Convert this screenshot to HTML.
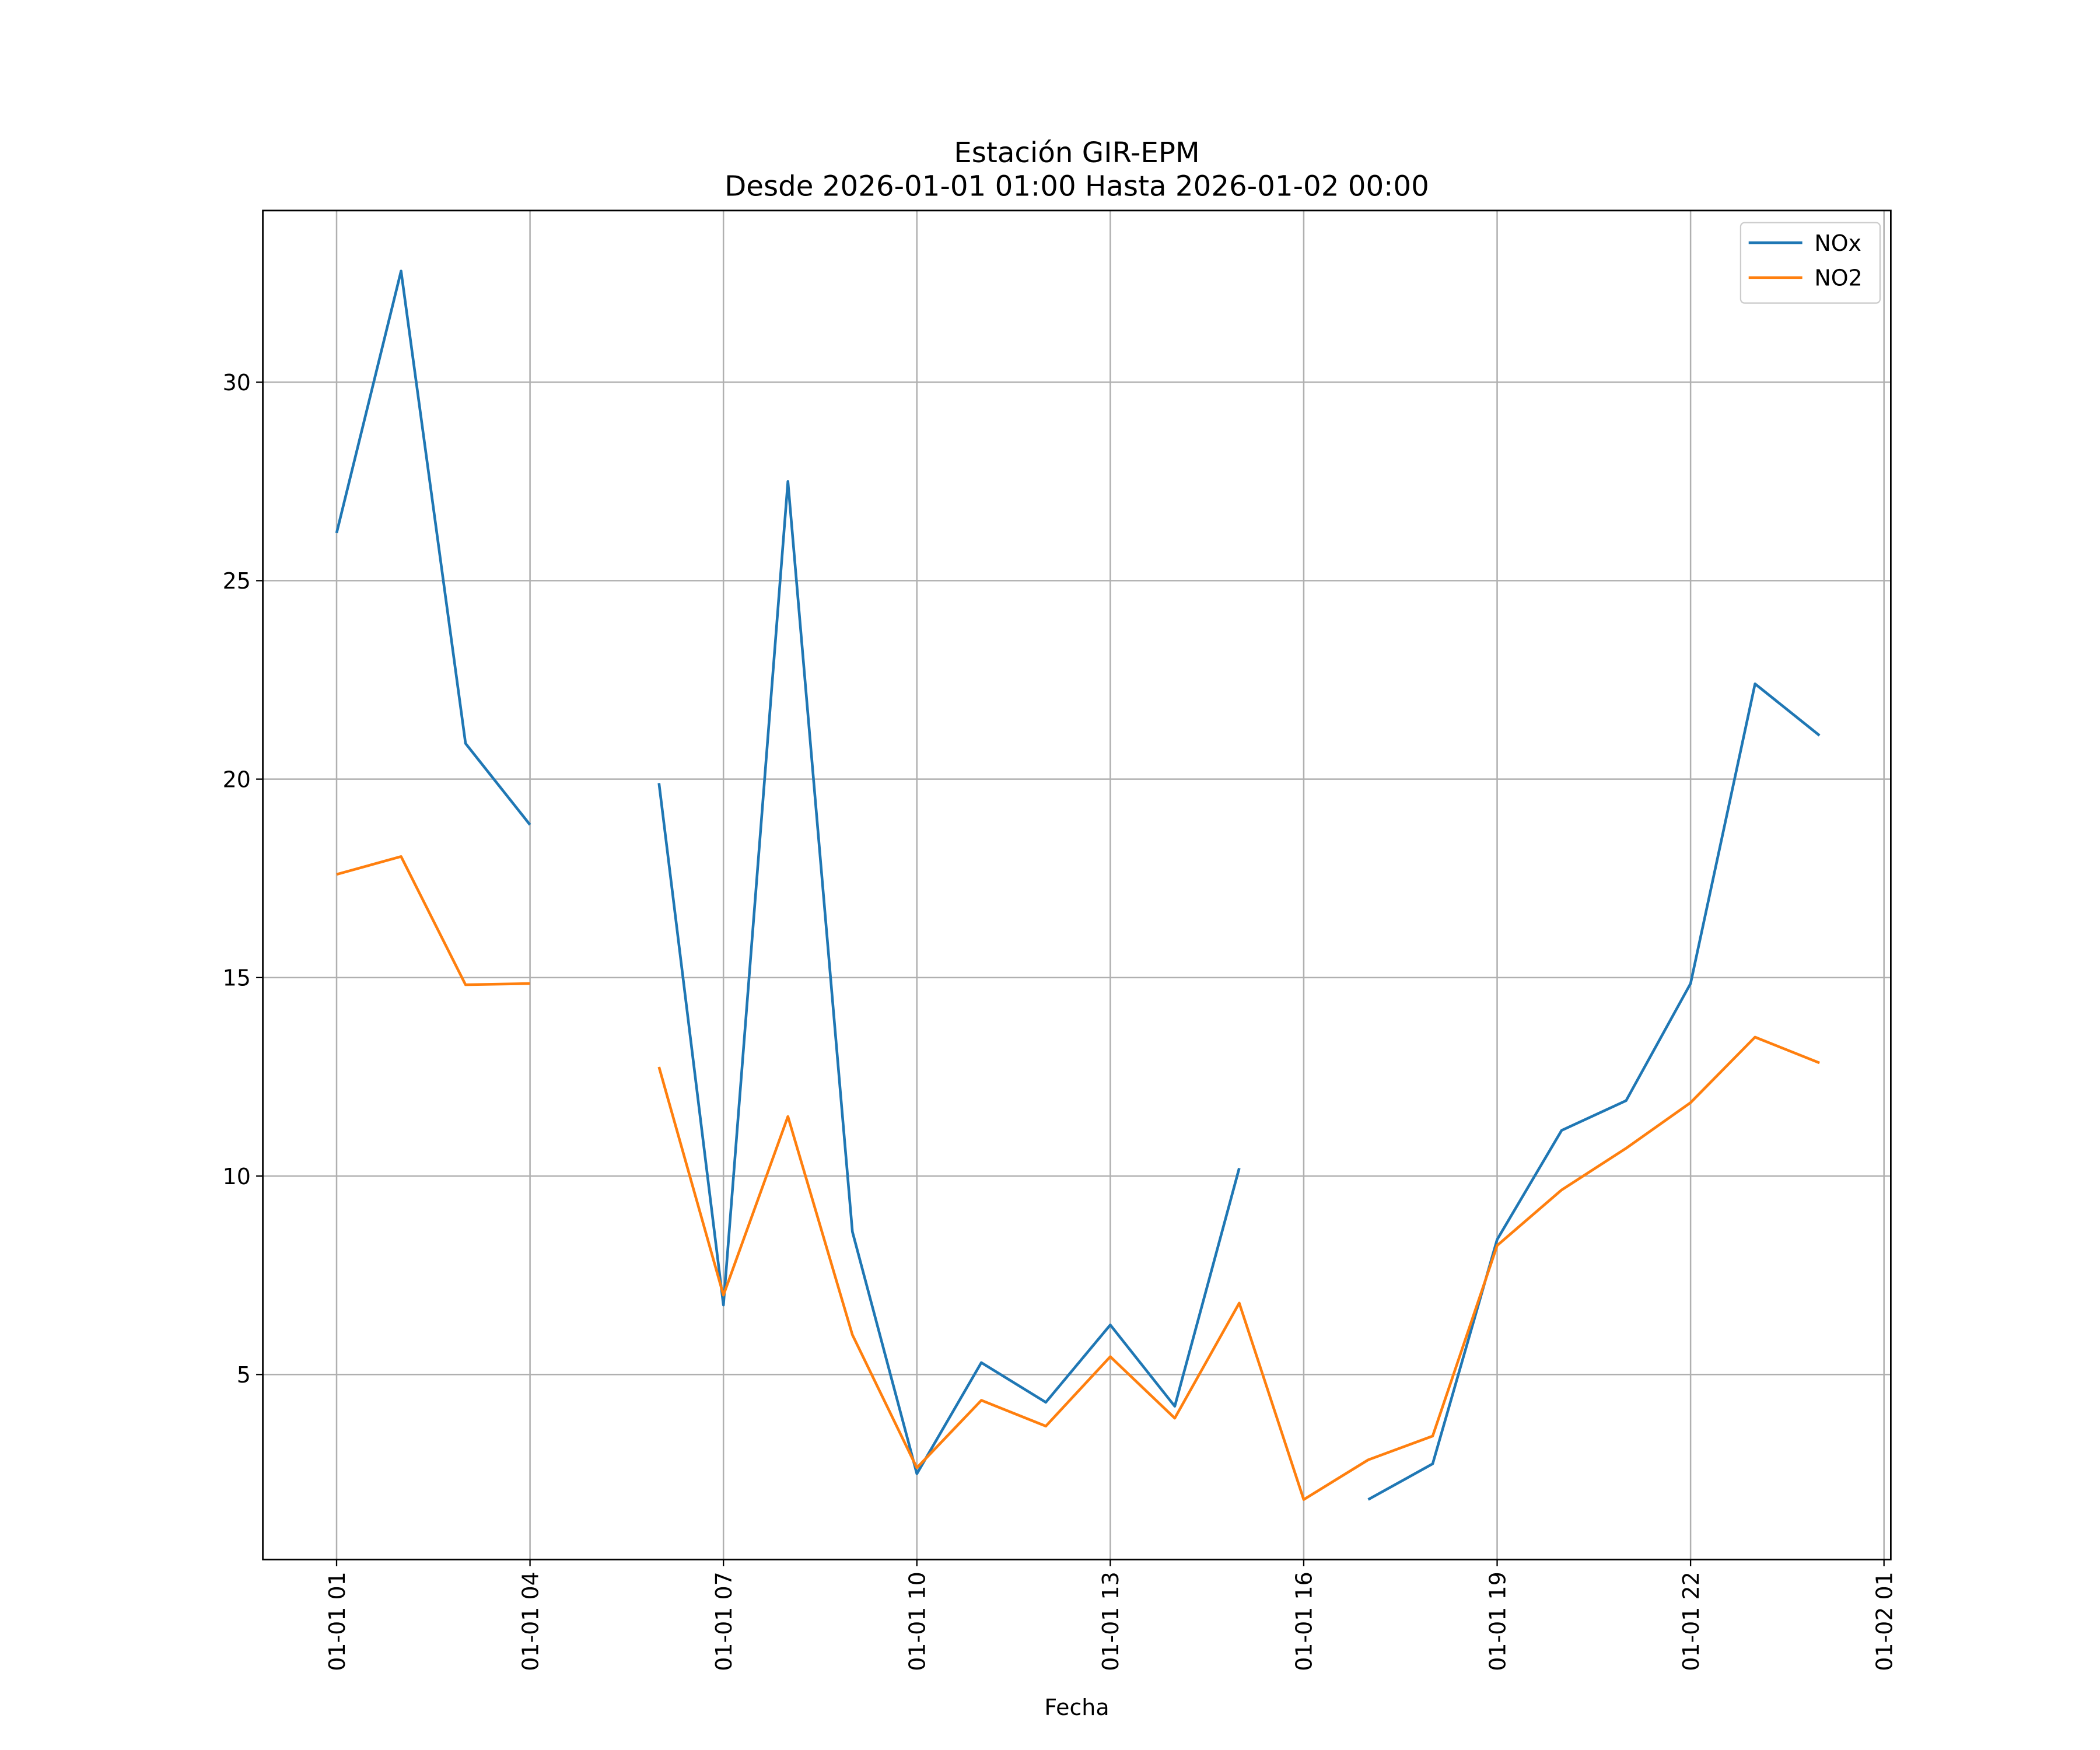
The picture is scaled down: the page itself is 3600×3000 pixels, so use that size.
<!DOCTYPE html>
<html><head><meta charset="utf-8"><style>html,body{margin:0;padding:0;background:#fff}svg{display:block}</style></head>
<body>
<svg id="chart" xmlns="http://www.w3.org/2000/svg" width="3600" height="3000" viewBox="0 0 1566 1305" preserveAspectRatio="none" font-family="'DejaVu Sans','Liberation Sans',sans-serif">
<rect width="1566" height="1305" fill="#fff"/>
<text x="803" y="121" font-size="21" text-anchor="middle">Estación GIR-EPM</text>
<text x="803" y="146" font-size="21" text-anchor="middle">Desde 2026-01-01 01:00 Hasta 2026-01-02 00:00</text>
<g id="grid"></g>
<g id="series"></g>
<rect x="196" y="157" width="1214" height="1006" fill="none" stroke="#000" stroke-width="1.2"/>
<g id="axes"></g>
<text x="803" y="1279" font-size="16.5" text-anchor="middle">Fecha</text>
<g>
<rect x="1298" y="166" width="104" height="60" rx="3" fill="#fff" stroke="#ccc" stroke-width="1"/>
<line x1="1304" y1="181" x2="1344" y2="181" stroke="#1f77b4" stroke-width="2"/>
<text x="1353" y="187" font-size="16.5">NOx</text>
<line x1="1304" y1="207" x2="1344" y2="207" stroke="#ff7f0e" stroke-width="2"/>
<text x="1353" y="213" font-size="16.5">NO2</text>
</g>
</svg>
<script>
const hours = [1,2,3,4,5,6,7,8,9,10,11,12,13,14,15,16,17,18,19,20,21,22,23,24];
const noxValues = [26.2,32.8,20.9,18.85,null,19.9,6.75,27.5,8.6,2.5,5.3,4.3,6.25,4.2,10.2,null,1.85,2.75,8.4,11.15,11.9,14.85,22.4,21.1];
const no2Values = [17.6,18.05,14.82,14.85,null,12.75,7.0,11.5,6.0,2.65,4.35,3.7,5.45,3.9,6.8,1.85,2.85,3.45,8.25,9.65,10.7,11.85,13.5,12.85];
const xTickHours = [1,4,7,10,13,16,19,22,25];
const xTickLabels = ["01-01 01","01-01 04","01-01 07","01-01 10","01-01 13","01-01 16","01-01 19","01-01 22","01-02 01"];
const yTicks = [5,10,15,20,25,30];

const NS = "http://www.w3.org/2000/svg";
const L=196,R=1410,T=157,B=1163;
const xScale = h => 251 + (h-1)*48.08;
const yScale = v => 1025 - (v-5)*29.6;
function mk(tag, attrs, parent){const e=document.createElementNS(NS,tag);for(const k in attrs)e.setAttribute(k,attrs[k]);parent.appendChild(e);return e;}
const grid=document.getElementById('grid'), axes=document.getElementById('axes'), series=document.getElementById('series');

xTickHours.forEach((h,i)=>{
  const x=xScale(h);
  const g=mk('line',{x1:x,y1:T,x2:x,y2:B,stroke:'#b0b0b0','stroke-width':1.1},grid);
  
  
  const t=mk('line',{x1:x,y1:B,x2:x,y2:B+5,stroke:'#000','stroke-width':1},axes);
  
  
  const tx=mk('text',{x:0,y:0,'font-size':16.5,'text-anchor':'end',transform:`translate(${x+6},${B+9}) rotate(-90)`},axes);
  tx.textContent=xTickLabels[i];
  
  
});
yTicks.forEach(v=>{
  const y=yScale(v);
  const g=mk('line',{x1:L,y1:y,x2:R,y2:y,stroke:'#b0b0b0','stroke-width':1.1},grid);
  
  
  const t=mk('line',{x1:L-5,y1:y,x2:L,y2:y,stroke:'#000','stroke-width':1},axes);
  
  
  const tx=mk('text',{x:L-9,y:y+6,'font-size':16.5,'text-anchor':'end'},axes);
  tx.textContent=v;
  
  
});
function drawSeries(vals,color,name){
  let d='',pen=false;
  vals.forEach((v,i)=>{
    if(v===null){pen=false;return;}
    d+=(pen?'L':'M')+xScale(hours[i]).toFixed(2)+' '+yScale(v).toFixed(2)+' ';
    pen=true;
  });
  const p=mk('path',{d:d,fill:'none',stroke:color,'stroke-width':2,'stroke-linejoin':'round'},series);
  
  
}
drawSeries(noxValues,'#1f77b4','nox-line');
drawSeries(no2Values,'#ff7f0e','no2-line');
</script>
</body></html>
